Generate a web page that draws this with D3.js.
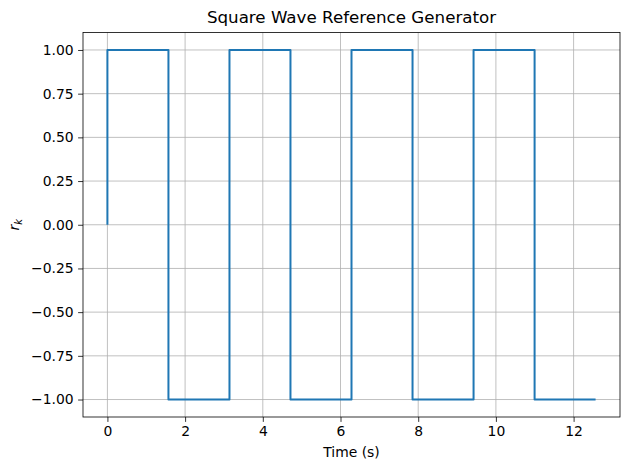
<!DOCTYPE html>
<html>
<head>
<meta charset="utf-8">
<script src="https://cdn.jsdelivr.net/npm/d3@7"></script>
<style>
  body { margin: 0; background: #fff; }
  svg { font-family: 'DejaVu Sans', sans-serif; }
</style>
</head>
<body>
<svg id="chart" width="630" height="470"></svg>
<script>
// Square wave samples (time in s, reference value)
const times = [0, 0, 1.571, 1.571, 3.142, 3.142, 4.712, 4.712, 6.283, 6.283, 7.854, 7.854, 9.425, 9.425, 10.996, 10.996, 12.566];
const values = [0, 1, 1, -1, -1, 1, 1, -1, -1, 1, 1, -1, -1, 1, 1, -1, -1];
const xTicks = [0, 2, 4, 6, 8, 10, 12];
const yTicks = [-1.0, -0.75, -0.5, -0.25, 0.0, 0.25, 0.5, 0.75, 1.0];

function drawChart() {
    const svg = d3.select('#chart');
    const margin = { top: 32.5, right: 10, bottom: 53, left: 83 };
    const width = 630 - margin.left - margin.right;
    const height = 470 - margin.top - margin.bottom;

    const g = svg.append('g')
        .attr('transform', `translate(${margin.left},${margin.top})`);

    const xPad = (12.566 - 0) * 0.05;
    const x = d3.scaleLinear()
        .domain([0 - xPad, 12.566 + xPad])
        .range([0, width]);

    const y = d3.scaleLinear()
        .domain([-1.1, 1.1])
        .range([height, 0]);

    // Grid
    g.append('g')
        .selectAll('line')
        .data(xTicks)
        .enter()
        .append('line')
        .attr('x1', d => x(d)).attr('x2', d => x(d))
        .attr('y1', 0).attr('y2', height)
        .attr('stroke', '#b0b0b0')
        .attr('stroke-width', 0.8);

    g.append('g')
        .selectAll('line')
        .data(yTicks)
        .enter()
        .append('line')
        .attr('y1', d => y(d)).attr('y2', d => y(d))
        .attr('x1', 0).attr('x2', width)
        .attr('stroke', '#b0b0b0')
        .attr('stroke-width', 0.8);

    // Line
    const data = times.map((t, i) => ({ t: t, v: values[i] }));
    g.append('path')
        .datum(data)
        .attr('fill', 'none')
        .attr('stroke', '#1f77b4')
        .attr('stroke-width', 2)
        .attr('stroke-linejoin', 'round')
        .attr('d', d3.line().x(d => x(d.t)).y(d => y(d.v)));

    // Axes
    const xAxis = g.append('g')
        .attr('transform', `translate(0,${height})`)
        .call(d3.axisBottom(x).tickValues(xTicks).tickSize(4.9).tickPadding(4.5).tickFormat(d3.format('d')));

    const yAxis = g.append('g')
        .call(d3.axisLeft(y).tickValues(yTicks).tickSize(4.9).tickPadding(4.5).tickFormat(d => d3.format('.2f')(d).replace('-', '\u2212')));

    [xAxis, yAxis].forEach(a => {
        a.select('.domain').remove();
        a.selectAll('line').attr('stroke', '#000').attr('stroke-width', 0.8);
        a.selectAll('text')
            .style('font-family', "'DejaVu Sans', sans-serif")
            .style('font-size', '13.9px')
            .attr('fill', '#000');
    });

    // Frame
    g.append('rect')
        .attr('x', 0).attr('y', 0)
        .attr('width', width).attr('height', height)
        .attr('fill', 'none')
        .attr('stroke', '#000')
        .attr('stroke-width', 0.8);

    // Title
    svg.append('text')
        .attr('x', margin.left + width / 2)
        .attr('y', 22.5)
        .attr('text-anchor', 'middle')
        .style('font-size', '16.7px')
        .text('Square Wave Reference Generator');

    // X label
    svg.append('text')
        .attr('x', margin.left + width / 2)
        .attr('y', 456.5)
        .attr('text-anchor', 'middle')
        .style('font-size', '13.9px')
        .text('Time (s)');

    // Y label (r_k)
    const yl = svg.append('text')
        .attr('transform', `translate(19,${margin.top + height / 2}) rotate(-90)`)
        .attr('text-anchor', 'middle')
        .style('font-size', '13.9px')
        .style('font-style', 'italic');
    yl.append('tspan').text('r');
    yl.append('tspan').attr('dy', 3).style('font-size', '10px').text('k');
}

drawChart();
</script>
</body>
</html>
